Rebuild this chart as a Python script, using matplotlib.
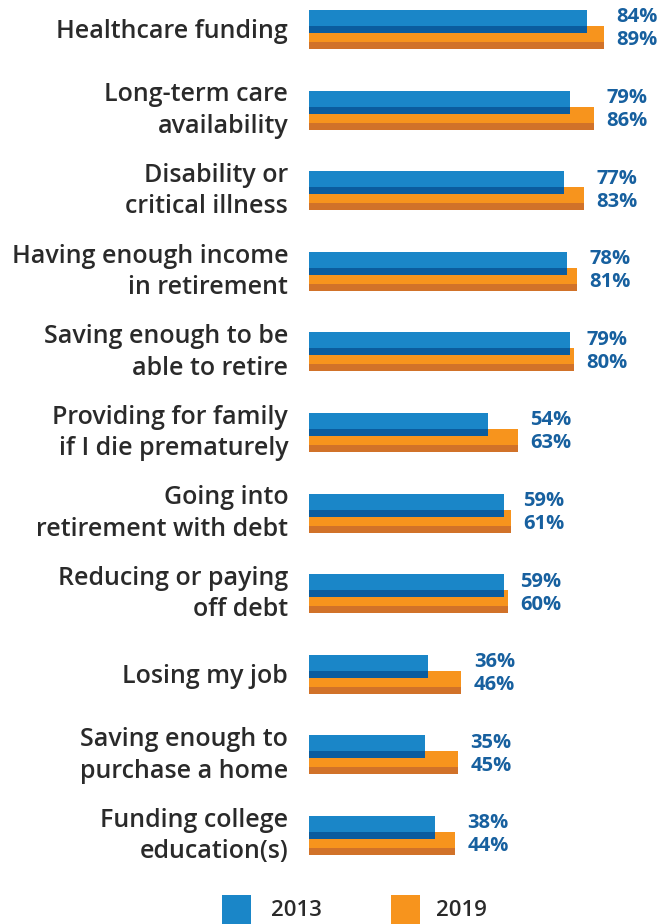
import matplotlib
matplotlib.use("Agg")
import matplotlib.pyplot as plt
from matplotlib.patches import Rectangle

categories = [
    "Healthcare funding",
    "Long-term care\navailability",
    "Disability or\ncritical illness",
    "Having enough income\nin retirement",
    "Saving enough to be\nable to retire",
    "Providing for family\nif I die prematurely",
    "Going into\nretirement with debt",
    "Reducing or paying\noff debt",
    "Losing my job",
    "Saving enough to\npurchase a home",
    "Funding college\neducation(s)",
]
v2013 = [84, 79, 77, 78, 79, 54, 59, 59, 36, 35, 38]
v2019 = [89, 86, 83, 81, 80, 63, 61, 60, 46, 45, 44]
series_labels = ["2013", "2019"]

BLUE = "#1a86c8"
BLUE_D = "#0b5c9e"
ORANGE = "#f7941d"
ORANGE_D = "#d17229"
LABEL_C = "#17609f"
TEXT_C = "#2a2a2a"

W, H = 657, 924
fig = plt.figure(figsize=(W / 100, H / 100), dpi=100)
plt.rcParams['font.family'] = ['Open Sans', 'DejaVu Sans']

x0, x100 = 309, 640
c0, step = 29.5, 80.6
ax = fig.add_axes([x0 / W, 0, (x100 - x0) / W, 1])
ax.set_xlim(0, 100)
ax.set_ylim((H - c0) / step, -c0 / step)
ax.axis("off")

px = 1 / step  # one pixel in y data units
n = len(categories)
ys = list(range(n))

# orange (2019)
ax.barh([y - 3.5 * px for y in ys], v2019, height=16 * px, align="edge", color=ORANGE, lw=0)
ax.barh([y + 12.5 * px for y in ys], v2019, height=7 * px, align="edge", color=ORANGE_D, lw=0)
# blue (2013)
ax.barh([y - 19.5 * px for y in ys], v2013, height=16 * px, align="edge", color=BLUE, lw=0)
ax.barh([y - 3.5 * px for y in ys], v2013, height=7 * px, align="edge", color=BLUE_D, lw=0)

for y, cat, a, b in zip(ys, categories, v2013, v2019):
    lines = cat.split("\n")
    nl = len(lines)
    for k, line in enumerate(lines):
        by = y + (9 - (2 if nl > 1 else 0) + (k - (nl - 1) / 2) * 31.5) * px
        ax.text(-6.3, by, line, ha="right", va="baseline", fontsize=18,
                fontweight="semibold", color=TEXT_C, clip_on=False)
    lx = max(a, b) + 3.8
    ax.text(lx, y - 12 * px, f"{a}%", ha="left", va="center", fontsize=14.5,
            fontweight="bold", color=LABEL_C, clip_on=False)
    ax.text(lx, y + 11 * px, f"{b}%", ha="left", va="center", fontsize=14.5,
            fontweight="bold", color=LABEL_C, clip_on=False)

# legend
for (sx, tx, col, lab) in [(222, 271, BLUE, series_labels[0]), (391, 436, ORANGE, series_labels[1])]:
    fig.patches.append(Rectangle((sx / W, 0), 29 / W, 29 / H, transform=fig.transFigure,
                                 color=col, lw=0))
    fig.text(tx / W, 1 - 911 / H, lab, ha="left", va="center", fontsize=16,
             fontweight="semibold", color=TEXT_C)

fig.savefig("out.png", dpi=100)
